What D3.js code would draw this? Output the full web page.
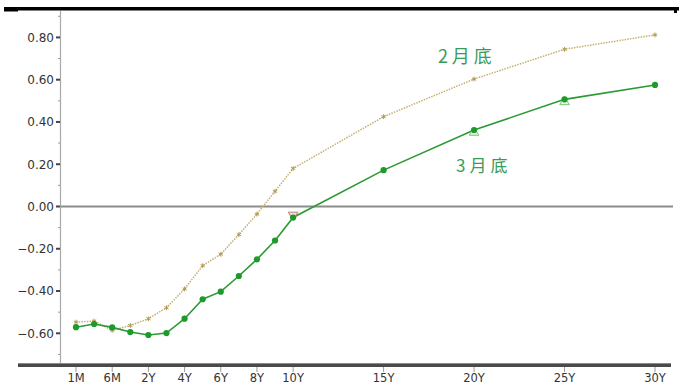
<!DOCTYPE html>
<html><head><meta charset="utf-8">
<script src="https://cdn.jsdelivr.net/npm/d3@7"></script>
<style>html,body{margin:0;padding:0;background:#fff;}svg{display:block;}</style>
</head><body>
<svg id="c" width="679" height="388"></svg>
<script>
// slots along the maturity axis
const slots = ["1M","3M","6M","1Y"].concat(d3.range(2,31).map(d => d + "Y"));
const tenors = ["1M","3M","6M","1Y","2Y","3Y","4Y","5Y","6Y","7Y","8Y","9Y","10Y","15Y","20Y","25Y","30Y"];
const febValues = [-0.547,-0.542,-0.586,-0.563,-0.531,-0.479,-0.390,-0.280,-0.226,-0.133,-0.036,0.072,0.180,0.425,0.603,0.744,0.812];
const marValues = [-0.571,-0.556,-0.572,-0.594,-0.608,-0.599,-0.531,-0.439,-0.403,-0.329,-0.250,-0.161,-0.052,0.172,0.362,0.507,0.575];
const xTickLabels = ["1M","6M","2Y","4Y","6Y","8Y","10Y","15Y","20Y","25Y","30Y"];
const yTicks = [-0.6,-0.4,-0.2,0,0.2,0.4,0.6,0.8];
const yMinor = [-0.7,-0.5,-0.3,-0.1,0.1,0.3,0.5,0.7,0.9];
const downMarks = [{t:"10Y", v:-0.040}];
const upMarks = [{t:"20Y", v:0.350},{t:"25Y", v:0.495}];
const seriesLabels = [{name:"2月底", t:"18Y", v:0.71, size:18},{name:"3月底", t:"19Y", v:0.19, size:17}];

const svg = d3.select("#c");
const x = d3.scalePoint().domain(slots).range([76, 655]);
const y = d3.scaleLinear().domain([-0.75, 0.925]).range([365, 11]);

// top black bar
svg.append("rect").attr("x",4).attr("y",7).attr("width",675).attr("height",3.5).attr("fill","#000");
svg.append("rect").attr("x",4).attr("y",8).attr("width",14).attr("height",3.5).attr("fill","#000");
svg.append("rect").attr("x",674).attr("y",7).attr("width",3).attr("height",6).attr("fill","#000");

// y axis line
svg.append("line").attr("x1",60.5).attr("x2",60.5).attr("y1",11).attr("y2",365).attr("stroke","#a8a8a8").attr("stroke-width",1.2);
svg.selectAll(".ymaj").data(yTicks).join("line")
  .attr("x1",56).attr("x2",60).attr("y1",d=>y(d)).attr("y2",d=>y(d)).attr("stroke","#444").attr("stroke-width",2);
svg.selectAll(".ymin").data(yMinor).join("line")
  .attr("x1",58).attr("x2",60).attr("y1",d=>y(d)).attr("y2",d=>y(d)).attr("stroke","#999").attr("stroke-width",1);
svg.selectAll(".ylab").data(yTicks).join("text")
  .attr("x",54).attr("y",d=>y(d)).attr("dy","0.36em").attr("text-anchor","end")
  .attr("font-family","DejaVu Sans, Verdana, sans-serif").attr("font-size",12).attr("fill","#333")
  .text(d=>d3.format(".2f")(d));

// zero line
svg.append("line").attr("x1",61).attr("x2",673).attr("y1",y(0)).attr("y2",y(0)).attr("stroke","#8c8c8c").attr("stroke-width",1.8);

// bottom axis
svg.append("rect").attr("x",18).attr("y",363.5).attr("width",653).attr("height",3.5).attr("fill","#4a4a4a");
svg.append("line").attr("x1",18).attr("x2",671).attr("y1",363.5).attr("y2",363.5).attr("stroke","#8a8a8a").attr("stroke-width",1);
svg.selectAll(".xt").data(xTickLabels).join("line")
  .attr("x1",d=>x(d)).attr("x2",d=>x(d)).attr("y1",367).attr("y2",372).attr("stroke","#999").attr("stroke-width",1);
svg.selectAll(".xlab").data(xTickLabels).join("text")
  .attr("x",d=>x(d)).attr("y",378).attr("dy","0.36em").attr("text-anchor","middle")
  .attr("font-family","DejaVu Sans, Verdana, sans-serif").attr("font-size",11.5).attr("fill","#333")
  .text(d=>d);

const line = d3.line().x(d=>x(d.t)).y(d=>y(d.v));
const feb = tenors.map((t,i)=>({t, v:febValues[i]}));
const mar = tenors.map((t,i)=>({t, v:marValues[i]}));

// Feb series (dotted tan)
svg.append("path").datum(feb).attr("d",line).attr("fill","none")
  .attr("stroke","#c4b070").attr("stroke-width",1.5).attr("stroke-dasharray","1.5,1.2");
svg.selectAll(".febm").data(feb).join("path")
  .attr("transform",d=>`translate(${x(d.t)},${y(d.v)})`)
  .attr("d",d3.symbol().type(d3.symbolAsterisk).size(16))
  .attr("fill","none").attr("stroke","#b09a50").attr("stroke-width",1);

// Mar series (solid green)
svg.append("path").datum(mar).attr("d",line).attr("fill","none")
  .attr("stroke","#2a9a34").attr("stroke-width",1.6);

// extra hollow markers
svg.selectAll(".dn").data(downMarks).join("path")
  .attr("transform",d=>`translate(${x(d.t)},${y(d.v)}) rotate(180)`)
  .attr("d",d3.symbol().type(d3.symbolTriangle).size(40))
  .attr("fill","#f3dede").attr("stroke","#c87878").attr("stroke-width",1);
svg.selectAll(".up").data(upMarks).join("path")
  .attr("transform",d=>`translate(${x(d.t)},${y(d.v)})`)
  .attr("d",d3.symbol().type(d3.symbolTriangle).size(40))
  .attr("fill","#e4f4e4").attr("stroke","#7cc67c").attr("stroke-width",1);

svg.selectAll(".marm").data(mar).join("circle")
  .attr("cx",d=>x(d.t)).attr("cy",d=>y(d.v)).attr("r",3.1).attr("fill","#1c9a2a");

// series labels
svg.selectAll(".sl").data(seriesLabels).join("text")
  .attr("x",d=>x(d.t)).attr("y",d=>y(d.v)).attr("dy","0.36em").attr("text-anchor","start")
  .attr("font-family","Noto Sans CJK SC, sans-serif").attr("font-size",d=>d.size)
  .attr("letter-spacing",4).attr("fill","#3a9a5c")
  .text(d=>d.name);
</script>
</body></html>
